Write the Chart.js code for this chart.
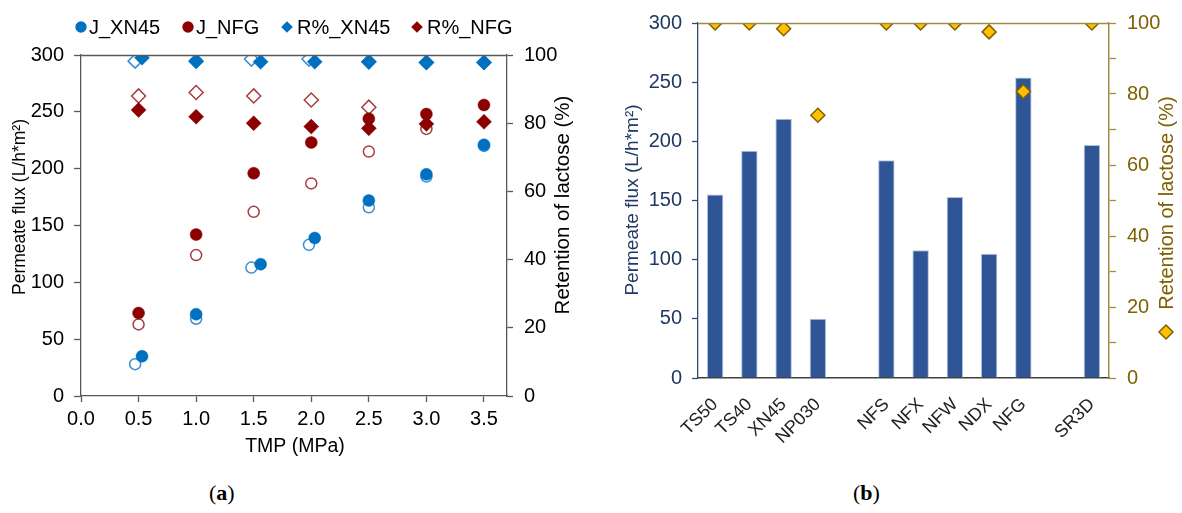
<!DOCTYPE html>
<html>
<head>
<meta charset="utf-8">
<script src="https://cdn.jsdelivr.net/npm/chart.js@4.4.0/dist/chart.umd.min.js"></script>
<style>
  html, body { margin: 0; padding: 0; background: #fff; }
  #page { position: relative; width: 1182px; height: 513px; overflow: hidden; }
  #chartA { position: absolute; left: 0; top: 0; }
  #chartB { position: absolute; left: 600px; top: 0; }
  .cap { position: absolute; top: 481px; line-height: 24px; font-family: "Liberation Serif", "DejaVu Serif", serif; font-size: 22px; color: #000; }
</style>
</head>
<body>
<div id="page">
  <canvas id="chartA" width="590" height="470"></canvas>
  <canvas id="chartB" width="582" height="470"></canvas>
  <div class="cap" style="left:209px">(<b>a</b>)</div>
  <div class="cap" style="left:853px">(<b>b</b>)</div>
</div>
<script>
// (a) flux and lactose retention vs TMP
const tmpXN45 = [0.53, 1.0, 1.56, 2.03, 2.5, 3.0, 3.5];
const tmpXN45b = [0.47, 1.0, 1.48, 1.98, 2.5, 3.0, 3.5];
const tmpNFG = [0.5, 1.0, 1.5, 2.0, 2.5, 3.0, 3.5];

const fluxXN45 = [35, 72, 116, 139, 172, 195, 221];
const fluxXN45b = [28, 68, 113, 133, 166, 193, 220];
const fluxNFG = [73, 142, 196, 223, 244, 248, 256];
const fluxNFGb = [63, 124, 162, 187, 215, 235, null];

const retXN45 = [99.2, 98.2, 98.0, 98.0, 98.0, 97.8, 97.8];
const retXN45b = [98.2, 98.2, 98.8, 98.8, 98.0, 97.8, 97.8];
const retNFG = [83.9, 81.9, 80.0, 79.0, 78.5, 79.8, 80.4];
const retNFGb = [88.0, 89.0, 88.0, 86.8, 84.7, null, null];

const tmpTicks = [0, 0.5, 1.0, 1.5, 2.0, 2.5, 3.0, 3.5];

// (b) membrane screening
const membranes = ["TS50", "TS40", "XN45", "NP030", "", "NFS", "NFX", "NFW", "NDX", "NFG", "", "SR3D"];
const fluxMembrane = [155, 192, 219, 50, null, 184, 108, 153, 105, 254, null, 197];
const retMembrane = [100, 100, 98.4, 74, null, 100, 100, 100, 97.5, 80.7, null, 100];

const BLUE = "#0070C0", BLUE_OPEN = "#3A8ED8";
const RED = "#8B0000", RED_OPEN = "#A83C3C";
const NAVY = "#1F3864", BAR = "#2F5597";
const GOLD = "#FFC000", OLIVE = "#7F6000", OLIVE_LINE = "#A08C44";
const AXIS = "#595959";

Chart.defaults.font.family = '"Liberation Sans", Arial, sans-serif';
Chart.defaults.color = "#000";

const pts = (xs, ys) => xs.map((x, i) => ({ x, y: ys[i] }));

function marker(ctx, style, x, y, r, fill, stroke, lw) {
  ctx.beginPath();
  if (style === "circle") {
    ctx.arc(x, y, r, 0, Math.PI * 2);
  } else {
    ctx.moveTo(x - r, y); ctx.lineTo(x, y - r); ctx.lineTo(x + r, y); ctx.lineTo(x, y + r);
    ctx.closePath();
  }
  ctx.fillStyle = fill;
  ctx.fill();
  if (lw) { ctx.lineWidth = lw; ctx.strokeStyle = stroke; ctx.stroke(); }
}

// rotated / free axis titles and small extras drawn on top
function extras(cfg) {
  return {
    id: "extras",
    afterDraw(chart) {
      const ctx = chart.ctx;
      const a = chart.chartArea;
      ctx.save();
      if (cfg.topLine) {
        ctx.strokeStyle = cfg.topLine;
        ctx.lineWidth = 1.3;
        ctx.beginPath();
        ctx.moveTo(a.left, a.top + 0.5);
        ctx.lineTo(a.right, a.top + 0.5);
        ctx.stroke();
      }
      (cfg.titles || []).forEach(t => {
        ctx.save();
        ctx.translate(t.x, t.y);
        ctx.rotate(t.rot || 0);
        ctx.font = t.font;
        ctx.fillStyle = t.color;
        ctx.textAlign = "center";
        ctx.textBaseline = "middle";
        ctx.fillText(t.text, 0, 0);
        ctx.restore();
      });
      (cfg.legend || []).forEach(l => {
        const ds = chart.data.datasets[l.ds];
        marker(ctx, ds.pointStyle === "circle" ? "circle" : "diamond", l.x, l.y, l.r,
          ds.pointBackgroundColor, ds.pointBorderColor, l.lw || 0);
        if (l.text !== false) {
          ctx.font = l.font;
          ctx.fillStyle = "#000";
          ctx.textAlign = "left";
          ctx.textBaseline = "middle";
          ctx.fillText(ds.label, l.x + l.gap, l.y + 1);
        }
      });
      ctx.restore();
    }
  };
}

function scatterSet(label, data, axis, style, r, fill, stroke, lw) {
  return {
    label, data, yAxisID: axis, showLine: false,
    pointStyle: style, pointRadius: r, pointHoverRadius: r,
    pointBackgroundColor: fill, pointBorderColor: stroke, pointBorderWidth: lw
  };
}

new Chart(document.getElementById("chartA"), {
  type: "scatter",
  data: {
    datasets: [
      scatterSet("J_XN45", pts(tmpXN45, fluxXN45), "y", "circle", 6, BLUE, BLUE, 0.5),
      scatterSet("J_NFG", pts(tmpNFG, fluxNFG), "y", "circle", 6, RED, RED, 0.5),
      scatterSet("R%_XN45", pts(tmpXN45, retXN45), "y2", "rectRot", 7.5, BLUE, BLUE, 0.5),
      scatterSet("R%_NFG", pts(tmpNFG, retNFG), "y2", "rectRot", 7.5, RED, RED, 0.5),
      scatterSet("J_XN45 (2)", pts(tmpXN45b, fluxXN45b), "y", "circle", 5.5, "#fff", BLUE_OPEN, 1.5),
      scatterSet("J_NFG (2)", pts(tmpNFG, fluxNFGb), "y", "circle", 5.5, "#fff", RED_OPEN, 1.5),
      scatterSet("R%_XN45 (2)", pts(tmpXN45b, retXN45b), "y2", "rectRot", 7, "#fff", BLUE_OPEN, 1.5),
      scatterSet("R%_NFG (2)", pts(tmpNFG, retNFGb), "y2", "rectRot", 7, "#fff", RED_OPEN, 1.5)
    ]
  },
  options: {
    responsive: false,
    animation: false,
    devicePixelRatio: 1,
    layout: { padding: { top: 55, left: 0, right: 0, bottom: 0 } },
    plugins: { legend: { display: false }, tooltip: { enabled: false } },
    scales: {
      x: {
        type: "linear", min: 0, max: 3.7,
        afterBuildTicks: s => { s.ticks = tmpTicks.map(v => ({ value: v })); },
        afterFit: s => { s.height = 74; },
        ticks: { callback: v => v.toFixed(1), font: { size: 20 }, color: "#000", padding: 5, maxRotation: 0 },
        grid: { drawOnChartArea: false, tickLength: 6, tickColor: AXIS, tickWidth: 1.3 },
        border: { color: AXIS, width: 1.3 }
      },
      y: {
        position: "left", min: 0, max: 300,
        afterFit: s => { s.width = 81; },
        ticks: { stepSize: 50, font: { size: 20 }, color: "#000", padding: 10 },
        grid: { drawOnChartArea: false, tickLength: 7, tickColor: AXIS, tickWidth: 1.3 },
        border: { color: AXIS, width: 1.3 }
      },
      y2: {
        position: "right", min: 0, max: 100,
        afterFit: s => { s.width = 83; },
        ticks: { stepSize: 20, font: { size: 20 }, color: "#000", padding: 11 },
        grid: { drawOnChartArea: false, tickLength: 6, tickColor: AXIS, tickWidth: 1.3 },
        border: { color: AXIS, width: 1.3 }
      }
    }
  },
  plugins: [extras({
    topLine: AXIS,
    titles: [
      { text: "Permeate flux (L/h*m²)", x: 20, y: 207, rot: -Math.PI / 2, font: '17.5px "Liberation Sans", Arial', color: "#000" },
      { text: "Retention of lactose (%)", x: 563, y: 205, rot: -Math.PI / 2, font: '20.5px "Liberation Sans", Arial', color: "#000" },
      { text: "TMP (MPa)", x: 295, y: 447, font: '19.5px "Liberation Sans", Arial', color: "#000" }
    ],
    legend: [
      { ds: 0, x: 81, y: 27, r: 5.7, gap: 8, font: '20px "Liberation Sans", Arial' },
      { ds: 1, x: 188, y: 27, r: 5.7, gap: 8, font: '20px "Liberation Sans", Arial' },
      { ds: 2, x: 287, y: 27, r: 5.8, gap: 10, font: '20px "Liberation Sans", Arial' },
      { ds: 3, x: 417, y: 27, r: 5.8, gap: 10, font: '20px "Liberation Sans", Arial' }
    ]
  })]
});

new Chart(document.getElementById("chartB"), {
  data: {
    labels: membranes,
    datasets: [
      {
        type: "line", label: "Retention of lactose (%)", data: retMembrane, yAxisID: "y2",
        showLine: false, pointStyle: "rectRot", pointRadius: 7, pointHoverRadius: 7,
        pointBackgroundColor: GOLD, pointBorderColor: OLIVE, pointBorderWidth: 1.5
      },
      {
        type: "bar", label: "Permeate flux (L/h*m²)", data: fluxMembrane, yAxisID: "y",
        backgroundColor: BAR, borderColor: "#B4C2DC", borderWidth: 1,
        barPercentage: 0.48, categoryPercentage: 1
      }
    ]
  },
  options: {
    responsive: false,
    animation: false,
    devicePixelRatio: 1,
    layout: { padding: { top: 21, left: 0, right: 0, bottom: 0 } },
    plugins: { legend: { display: false }, tooltip: { enabled: false } },
    scales: {
      x: {
        type: "category", offset: true,
        afterFit: s => { s.height = 92; },
        ticks: { font: { size: 18 }, color: "#222", minRotation: 45, maxRotation: 45, padding: 8, autoSkip: false },
        grid: { display: false },
        border: { color: "#404040", width: 1.5 }
      },
      y: {
        position: "left", min: 0, max: 300,
        afterFit: s => { s.width = 98; },
        ticks: { stepSize: 50, font: { size: 20 }, color: NAVY, padding: 10 },
        grid: { drawOnChartArea: false, tickLength: 6, tickColor: "#2F4B7C", tickWidth: 1.3 },
        border: { color: "#2F4B7C", width: 1.3 }
      },
      y2: {
        position: "right", min: 0, max: 100,
        afterFit: s => { s.width = 73; },
        ticks: { stepSize: 10, callback: v => (v % 20 === 0 ? v : ""), font: { size: 20 }, color: OLIVE, padding: 11 },
        grid: { drawOnChartArea: false, tickLength: 7, tickColor: OLIVE_LINE, tickWidth: 1.3 },
        border: { color: OLIVE_LINE, width: 1.5 }
      }
    }
  },
  plugins: [extras({
    topLine: OLIVE_LINE,
    titles: [
      { text: "Permeate flux (L/h*m²)", x: 33, y: 200, rot: -Math.PI / 2, font: '19px "Liberation Sans", Arial', color: NAVY },
      { text: "Retention of lactose (%)", x: 567, y: 203, rot: -Math.PI / 2, font: '20px "Liberation Sans", Arial', color: OLIVE }
    ],
    legend: [
      { ds: 0, x: 566, y: 332, r: 7, lw: 1.5, text: false }
    ]
  })]
});
</script>
</body>
</html>
